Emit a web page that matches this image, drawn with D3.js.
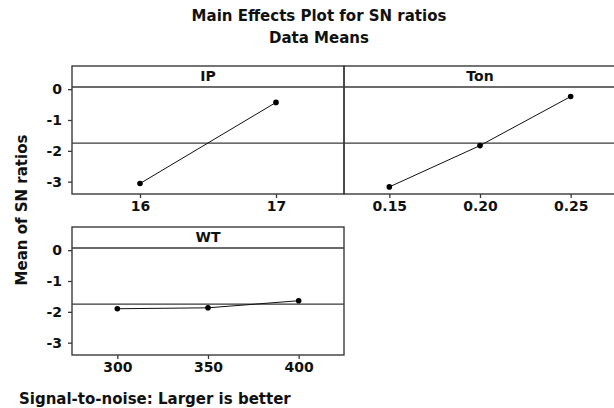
<!DOCTYPE html>
<html>
<head>
<meta charset="utf-8">
<script src="https://cdn.jsdelivr.net/npm/d3@7"></script>
<style>
  html, body { margin: 0; padding: 0; background: #fff; }
  svg { display: block; }
  text { font-family: "DejaVu Sans", Verdana, sans-serif; font-weight: bold; fill: #111; }
</style>
</head>
<body>
<svg id="chart" width="614" height="408"></svg>
<script>
// Main effects of each factor on the mean SN ratio
const factorNames = ["IP", "Ton", "WT"];

const ipLevels = [16, 17];
const ipLabels = ["16", "17"];
const ipMeans = [-3.06, -0.43];

const tonLevels = [0.15, 0.20, 0.25];
const tonLabels = ["0.15", "0.20", "0.25"];
const tonMeans = [-3.17, -1.83, -0.24];

const wtLevels = [300, 350, 400];
const wtLabels = ["300", "350", "400"];
const wtMeans = [-1.90, -1.87, -1.64];

const yTicks = [0, -1, -2, -3];
const grandMean = -1.75;

// Panel geometry
const panelW = 272, stripH = 21, plotH = 107;
const panels = [
  { name: factorNames[0], levels: ipLevels, labels: ipLabels, means: ipMeans, x0: 72, y0: 66, pad: 0.5, yAxis: true },
  { name: factorNames[1], levels: tonLevels, labels: tonLabels, means: tonMeans, x0: 344, y0: 66, pad: 0.025, yAxis: false },
  { name: factorNames[2], levels: wtLevels, labels: wtLabels, means: wtMeans, x0: 72, y0: 227, pad: 25, yAxis: true }
];

const svg = d3.select("#chart");
const frame = "#3a3a3a";

// Titles
svg.append("text").attr("x", 319).attr("y", 21).attr("text-anchor", "middle")
  .style("font-size", "15px").text("Main Effects Plot for SN ratios");
svg.append("text").attr("x", 319).attr("y", 43).attr("text-anchor", "middle")
  .style("font-size", "15px").text("Data Means");

// Y axis title
svg.append("text").attr("transform", "translate(27,210) rotate(-90)")
  .attr("text-anchor", "middle").style("font-size", "15px").text("Mean of SN ratios");

// Footer
svg.append("text").attr("x", 19).attr("y", 404)
  .style("font-size", "15px").text("Signal-to-noise: Larger is better");

panels.forEach(p => {
  const lo = d3.min(p.levels) - p.pad, hi = d3.max(p.levels) + p.pad;
  const x = d3.scaleLinear().domain([lo, hi]).range([p.x0, p.x0 + panelW]);
  const yTop = p.y0 + stripH;
  const y = d3.scaleLinear().domain([-3.4, 0.07]).range([yTop + plotH, yTop]);
  const g = svg.append("g");

  // frame and strip
  g.append("rect").attr("x", p.x0).attr("y", p.y0).attr("width", panelW).attr("height", stripH + plotH)
    .attr("fill", "none").attr("stroke", frame).attr("stroke-width", 1.4);
  g.append("line").attr("x1", p.x0).attr("x2", p.x0 + panelW).attr("y1", yTop).attr("y2", yTop)
    .attr("stroke", frame).attr("stroke-width", 1.4);
  g.append("text").attr("x", p.x0 + panelW / 2).attr("y", p.y0 + 15).attr("text-anchor", "middle")
    .style("font-size", "14px").text(p.name);

  // overall mean reference line
  g.append("line").attr("x1", p.x0).attr("x2", p.x0 + panelW)
    .attr("y1", y(grandMean)).attr("y2", y(grandMean))
    .attr("stroke", frame).attr("stroke-width", 1.3);

  // x axis
  const xAxis = d3.axisBottom(x).tickValues(p.levels).tickSize(4).tickPadding(3)
    .tickFormat((d, i) => p.labels[i]);
  const gx = g.append("g").attr("transform", `translate(0,${yTop + plotH})`).call(xAxis);
  gx.select(".domain").remove();
  gx.selectAll(".tick line").attr("stroke", frame).attr("stroke-width", 1.3);
  gx.selectAll(".tick text").style("font-size", "14px").style("font-family", "DejaVu Sans, sans-serif")
    .style("font-weight", "bold").attr("fill", "#111");

  // y axis
  if (p.yAxis) {
    const yAxis = d3.axisLeft(y).tickValues(yTicks).tickSize(4).tickPadding(6)
      .tickFormat(d3.format("d"));
    const gy = g.append("g").attr("transform", `translate(${p.x0},0)`).call(yAxis);
    gy.select(".domain").remove();
    gy.selectAll(".tick line").attr("stroke", frame).attr("stroke-width", 1.3);
    gy.selectAll(".tick text").style("font-size", "14px").style("font-family", "DejaVu Sans, sans-serif")
      .style("font-weight", "bold").attr("fill", "#111").text(d => d === 0 ? "0" : "-" + Math.abs(d));
  }

  // effect line and points
  const pts = p.levels.map((v, i) => [v, p.means[i]]);
  g.append("path").datum(pts)
    .attr("d", d3.line().x(d => x(d[0])).y(d => y(d[1])))
    .attr("fill", "none").attr("stroke", "#111").attr("stroke-width", 1);
  g.selectAll("circle.pt").data(pts).join("circle").attr("class", "pt")
    .attr("cx", d => x(d[0])).attr("cy", d => y(d[1])).attr("r", 2.8).attr("fill", "#000");
});
</script>
</body>
</html>
